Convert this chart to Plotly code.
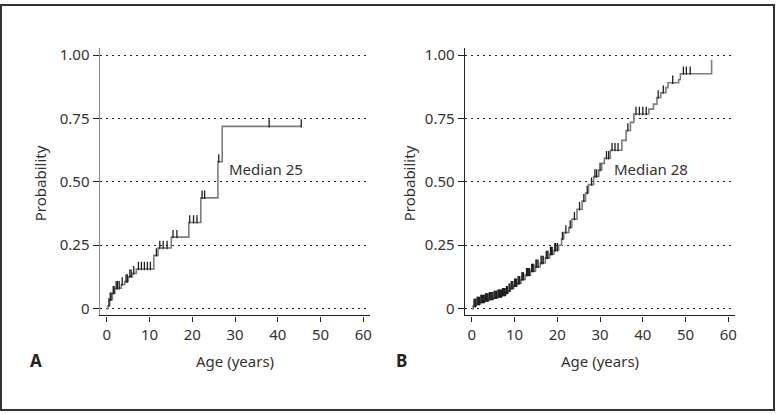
import numpy as np
import plotly.graph_objects as go

# panel A: event times (years) and cumulative probability after each step
a_times = [0.3, 0.7, 1.3, 1.9, 3.4, 4.2, 5.0, 6.0, 6.9, 11.0, 12.0, 15.1, 19.2, 22.0, 26.0, 27.0]
a_prob = [0.012, 0.035, 0.061, 0.08, 0.095, 0.107, 0.126, 0.139, 0.156, 0.21, 0.239, 0.282, 0.34, 0.437, 0.58, 0.719]
a_end = 45.5
a_censor = [0.5, 0.8, 1.0, 1.5, 1.7, 2.2, 2.5, 2.9, 3.6, 4.5, 4.8, 5.4, 5.7, 6.3, 7.4, 8.1, 8.8, 9.5, 10.2,
            11.6, 12.4, 13.2, 14.1, 15.5, 16.4, 19.4, 20.3, 21.1, 22.3, 22.9, 26.2, 38.0, 45.5]

# panel B
b_times = [0.3, 1.0, 2.0, 3.0, 4.0, 5.0, 6.0, 7.0, 7.9, 8.5, 9.0, 9.8, 10.6, 11.5, 12.5, 13.7, 14.9, 16.0,
           17.2, 18.2, 19.2, 20.3, 21.0, 21.5, 22.7, 23.4, 24.6, 25.8, 26.6, 27.3, 28.5, 29.7, 30.4, 31.0,
           32.4, 35.1, 36.1, 37.1, 37.9, 41.4, 42.5, 43.3, 44.2, 45.4, 45.9, 48.4, 48.8, 56.1]
b_prob = [0.01, 0.018, 0.026, 0.032, 0.037, 0.042, 0.047, 0.053, 0.061, 0.07, 0.08, 0.09, 0.1, 0.115, 0.132,
          0.148, 0.165, 0.18, 0.2, 0.215, 0.23, 0.25, 0.275, 0.3, 0.32, 0.353, 0.392, 0.424, 0.456, 0.489,
          0.521, 0.547, 0.573, 0.593, 0.625, 0.664, 0.703, 0.735, 0.768, 0.787, 0.807, 0.833, 0.852, 0.872,
          0.891, 0.904, 0.927, 0.982]
b_end = 56.1
b_censor = [0.5, 0.7, 0.9, 1.2, 1.4, 1.6, 1.8, 2.1, 2.3, 2.5, 2.7, 2.9, 3.2, 3.4, 3.6, 3.8, 4.1, 4.3, 4.5,
            4.7, 4.9, 5.2, 5.4, 5.6, 5.8, 6.1, 6.3, 6.5, 6.7, 6.9, 7.2, 7.4, 7.6, 7.8, 8.1, 8.3, 8.7, 8.9,
            9.2, 9.4, 9.6, 10.0, 10.2, 10.4, 10.8, 11.0, 11.2, 11.7, 11.9, 12.1, 12.8, 13.0, 13.2, 13.5,
            14.0, 14.2, 14.5, 15.0, 15.2, 15.5, 16.2, 16.4, 16.7, 17.4, 17.6, 17.8, 18.4, 18.6, 18.8, 19.4,
            19.6, 20.0, 21.2, 22.0, 23.0, 24.0, 25.2, 26.2, 27.0, 28.0, 28.8, 29.2, 30.0, 31.5, 32.0, 32.8,
            33.5, 34.2, 36.5, 38.4, 39.2, 40.0, 40.8, 43.6, 44.8, 47.0, 49.5, 50.2, 51.1]

y_ticks = [0, 0.25, 0.5, 0.75, 1.0]
y_labels = ["0", "0.25", "0.50", "0.75", "1.00"]
x_ticks = [0, 10, 20, 30, 40, 50, 60]
medians = ["Median 25", "Median 28"]

FONT = "Noto Sans"
TXT = "#333333"
LINE = "#7d7d7d"


def step_at(times, prob, t):
    i = np.searchsorted(times, t, side="right")
    return 0.0 if i == 0 else prob[i - 1]


fig = go.Figure()
panels = [(a_times, a_prob, a_end, a_censor, "x", "y"), (b_times, b_prob, b_end, b_censor, "x2", "y2")]
for times, prob, end, cens, xa, ya in panels:
    xs = [0] + times + ([end] if end > times[-1] else [])
    ys = [0] + prob + ([prob[-1]] if end > times[-1] else [])
    fig.add_trace(go.Scatter(x=xs, y=ys, mode="lines", line=dict(color=LINE, width=1.6, shape="hv"),
                             xaxis=xa, yaxis=ya, hoverinfo="skip"))
    cy = [step_at(times, prob, t) + 0.012 for t in cens]
    fig.add_trace(go.Scatter(x=cens, y=cy, mode="markers", xaxis=xa, yaxis=ya,
                             marker=dict(symbol="line-ns", size=6, line=dict(color="#1e1e1e", width=1.3))))

ax_common = dict(range=[-1.65, 61.6], tickvals=x_ticks, ticks="outside", ticklen=5, tickcolor="#222",
                 showgrid=False, zeroline=False, showline=True, linecolor="#222", linewidth=1.2,
                 tickfont=dict(family=FONT, size=15, color=TXT))
ay_common = dict(range=[-0.027, 1.027], tickvals=y_ticks, ticktext=y_labels, ticks="outside", ticklen=6,
                 tickcolor="#222", showgrid=True, gridcolor="#222", gridwidth=1, griddash="2px,4px",
                 zeroline=False, showline=True, linewidth=1.4,
                 tickfont=dict(family=FONT, size=15, color=TXT))

fig.update_layout(
    width=778, height=414, margin=dict(l=0, r=0, t=0, b=0),
    paper_bgcolor="white", plot_bgcolor="white", showlegend=False,
    xaxis=dict(domain=[100 / 778, 371 / 778], anchor="y", **ax_common),
    yaxis=dict(domain=[98 / 414, 369 / 414], anchor="x", linecolor="#8a8a8a", **ay_common),
    xaxis2=dict(domain=[466 / 778, 737 / 778], anchor="y2", **ax_common),
    yaxis2=dict(domain=[98 / 414, 369 / 414], anchor="x2", linecolor="#222", **ay_common),
)

# median labels
for i, (xa, ya) in enumerate([("x", "y"), ("x2", "y2")]):
    fig.add_annotation(x=[28.2, 32.9][i], y=0.55, xref=xa, yref=ya, text=medians[i], showarrow=False,
                       xanchor="left", yanchor="middle", font=dict(family=FONT, size=15, color=TXT))

# axis titles and panel letters
for cx, px_title, letter_x, letter in [(236, 40, 36, "A"), (602, 410, 403, "B")]:
    fig.add_annotation(x=cx / 778, y=1 - 362 / 414, xref="paper", yref="paper", text="Age (years)",
                       showarrow=False, xanchor="center", yanchor="middle",
                       font=dict(family=FONT, size=15, color=TXT))
    fig.add_annotation(x=px_title / 778, y=1 - 182 / 414, xref="paper", yref="paper", text="Probability",
                       textangle=-90, showarrow=False, xanchor="center", yanchor="middle",
                       font=dict(family=FONT, size=15, color=TXT))
    fig.add_annotation(x=letter_x / 778, y=1 - 362 / 414, xref="paper", yref="paper", text="<b>" + letter + "</b>",
                       showarrow=False, xanchor="center", yanchor="middle",
                       font=dict(family=FONT, size=17, color="#222"))

# outer frame
fig.add_shape(type="rect", xref="paper", yref="paper", x0=1 / 778, x1=776 / 778, y0=2 / 414, y1=413 / 414,
              line=dict(color="#333", width=2))

# drop the page's default body margin so the figure sits at the window origin
fig.write_html("out.html", config={"displayModeBar": False},
               post_script="document.body.style.margin='0';")
